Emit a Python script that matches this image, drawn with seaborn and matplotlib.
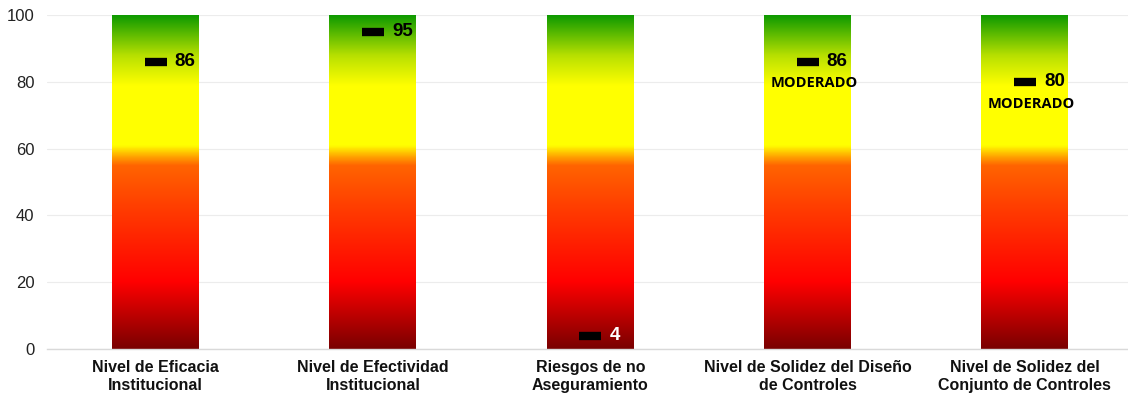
import numpy as np
import pandas as pd
import matplotlib
matplotlib.use("Agg")
import matplotlib.pyplot as plt
from matplotlib.colors import LinearSegmentedColormap
import seaborn as sns

categories = [
    "Nivel de Eficacia\nInstitucional",
    "Nivel de Efectividad\nInstitucional",
    "Riesgos de no\nAseguramiento",
    "Nivel de Solidez del Diseño\nde Controles",
    "Nivel de Solidez del\nConjunto de Controles",
]
scale_max = [100, 100, 100, 100, 100]
scores = [86, 95, 4, 86, 80]
score_labels = ["86", "95", "4", "86", "80"]
level_labels = ["", "", "", "MODERADO", "MODERADO"]
yticks = [0, 20, 40, 60, 80, 100]

sns.set_theme(style="white")
plt.rcParams["font.family"] = ["Liberation Sans", "DejaVu Sans"]

W, H = 1128, 393
fig = plt.figure(figsize=(W / 100, H / 100), dpi=100)
ax = fig.add_axes([47 / W, 44 / H, (1133.5 - 47) / W, (349 - 15) / H])

df = pd.DataFrame({"cat": categories, "top": scale_max})
sns.barplot(data=df, x="cat", y="top", width=0.4, ax=ax, color="white",
            edgecolor="none", zorder=2)

# red-to-green traffic light ramp along the 0-100 scale
stops = [
    (0.00, "#7a0000"),
    (0.20, "#ff0000"),
    (0.42, "#ff3c00"),
    (0.55, "#ff6400"),
    (0.575, "#ffa000"),
    (0.61, "#ffff00"),
    (0.79, "#ffff00"),
    (0.88, "#b8e000"),
    (1.00, "#0f9a00"),
]
cmap = LinearSegmentedColormap.from_list("semaforo", stops)
grad = np.linspace(0, 1, 512).reshape(-1, 1)
for patch in ax.patches:
    x0 = patch.get_x()
    w = patch.get_width()
    ax.imshow(grad, cmap=cmap, origin="lower", aspect="auto",
              extent=(x0, x0 + w, 0, patch.get_height()), zorder=3)

xs = np.arange(len(categories))
sns.scatterplot(x=xs, y=scores, marker="_", s=230, linewidth=6,
                color="black", ax=ax, zorder=5, legend=False)

for i, (v, lab, lvl) in enumerate(zip(scores, score_labels, level_labels)):
    col = "white" if v < 10 else "black"
    ax.text(i + 0.088, v, lab, ha="left", va="center", fontsize=13.5,
            fontweight="bold", color=col, zorder=6)
    if lvl:
        ax.text(i + 0.03, v - 6.5, lvl, ha="center", va="center",
                fontsize=10.5, fontweight="bold", color="black",
                family=["Open Sans", "DejaVu Sans"], zorder=6)

ax.set_xlim(-0.5, 4.5)
ax.set_ylim(0, 100)
ax.set_yticks(yticks)
ax.set_yticklabels([str(t) for t in yticks], fontsize=12, color="#222222")
ax.set_xlabel("")
ax.set_ylabel("")
ax.tick_params(axis="x", labelsize=11.5, colors="#111111", pad=8, length=0)
ax.tick_params(axis="y", length=0, pad=9)
for t in ax.get_xticklabels():
    t.set_fontweight("bold")
    t.set_linespacing(1.2)
ax.yaxis.grid(True, color="#ececec", linewidth=0.8, zorder=0)
ax.set_axisbelow(True)
for side in ["top", "right", "left"]:
    ax.spines[side].set_visible(False)
ax.spines["bottom"].set_color("#d9d9d9")
ax.spines["bottom"].set_linewidth(1)
ax.spines["bottom"].set_zorder(4)

fig.savefig("out.png", dpi=100)
